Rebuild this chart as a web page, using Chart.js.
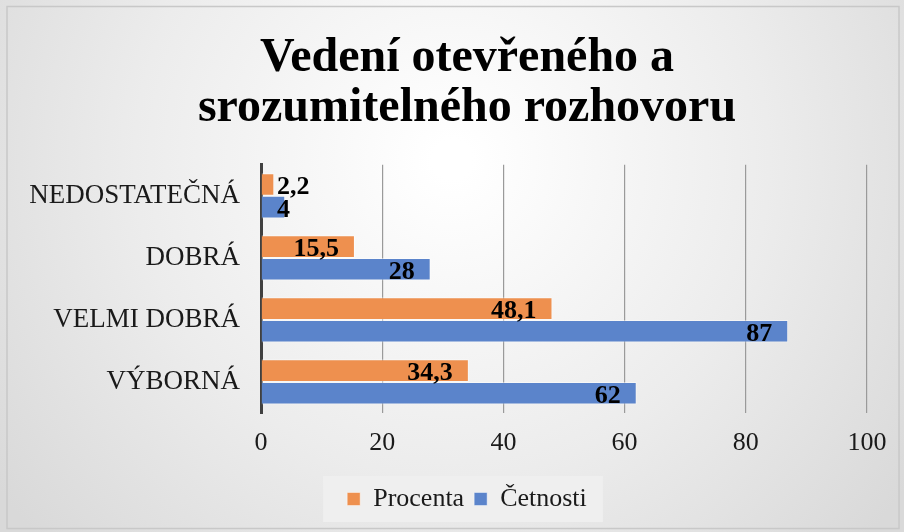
<!DOCTYPE html>
<html>
<head>
<meta charset="utf-8">
<script src="https://cdn.jsdelivr.net/npm/chart.js@4/dist/chart.umd.min.js"></script>
<style>
  html, body { margin: 0; padding: 0; background: #fff; }
  #wrap { width: 904px; height: 532px; position: relative; }
</style>
</head>
<body>
<div id="wrap"><canvas id="c" width="904" height="532"></canvas></div>
<script>
const categories = ['NEDOSTATEČNÁ', 'DOBRÁ', 'VELMI DOBRÁ', 'VÝBORNÁ'];
const procenta = [2.2, 15.5, 48.1, 34.3];
const cetnosti = [4, 28, 87, 62];
const xTicks = [0, 20, 40, 60, 80, 100];

const serif = "'Liberation Serif', 'Times New Roman', serif";

// background gradient + frame
const bgPlugin = {
    id: 'bg',
    beforeDraw(chart) {
        const ctx = chart.ctx, w = chart.width, h = chart.height;
        ctx.save();
        const g = ctx.createRadialGradient(w * 0.5, h * 0.3, 20, w * 0.5, h * 0.3, w * 0.62);
        g.addColorStop(0, '#ffffff');
        g.addColorStop(0.55, '#ececec');
        g.addColorStop(1, '#d9d9d9');
        ctx.fillStyle = g;
        ctx.fillRect(0, 0, w, h);
        ctx.strokeStyle = '#c8c8c8';
        ctx.lineWidth = 1.5;
        ctx.strokeRect(7, 6.5, w - 12, h - 10);
        // light box behind legend
        const lg = chart.legend;
        if (lg && lg.legendHitBoxes && lg.legendHitBoxes.length) {
            const hb = lg.legendHitBoxes;
            const l = Math.min(...hb.map(b => b.left)) - 24;
            const r = Math.max(...hb.map(b => b.left + b.width)) + 16;
            ctx.fillStyle = 'rgba(240,240,240,0.9)';
            ctx.fillRect(l, lg.top, r - l, lg.height);
        }
        ctx.restore();
    }
};

// value labels: inside end, or just right of the axis when the bar is too short
const labelPlugin = {
    id: 'vals',
    afterDatasetsDraw(chart) {
        const ctx = chart.ctx;
        const x0 = chart.scales.x.getPixelForValue(0);
        ctx.save();
        ctx.font = 'bold 26px ' + serif;
        ctx.fillStyle = '#000';
        ctx.textBaseline = 'middle';
        ctx.textAlign = 'left';
        chart.data.datasets.forEach((ds, di) => {
            chart.getDatasetMeta(di).data.forEach((bar, i) => {
                const txt = String(ds.data[i]).replace('.', ',');
                const tw = ctx.measureText(txt).width;
                let left = bar.x - 16 - tw;
                if (left < x0 + 16) left = x0 + 16;
                ctx.fillText(txt, left, bar.y + 3);
            });
        });
        ctx.restore();
    }
};

new Chart(document.getElementById('c'), {
    type: 'bar',
    data: {
        labels: categories,
        datasets: [
            { label: 'Procenta', data: procenta, backgroundColor: '#ee904f', borderColor: 'rgba(255,255,255,0.45)', borderWidth: 1, borderSkipped: 'left' },
            { label: 'Četnosti', data: cetnosti, backgroundColor: '#5b84cb', borderColor: 'rgba(255,255,255,0.45)', borderWidth: 1, borderSkipped: 'left' }
        ]
    },
    options: {
        indexAxis: 'y',
        responsive: false,
        animation: false,
        categoryPercentage: 0.73,
        barPercentage: 1.0,
        layout: { padding: { left: 30, right: 0, top: 0, bottom: 10 } },
        scales: {
            x: {
                min: 0, max: 100,
                afterBuildTicks: s => { s.ticks = xTicks.map(v => ({ value: v })); },
                afterFit: s => { s.height = 63; s.paddingRight = 37; },
                grid: { color: '#9a9a9a', lineWidth: 1.2, drawTicks: false },
                border: { display: false },
                ticks: { color: '#1a1a1a', padding: 15, font: { family: serif, size: 26 } }
            },
            y: {
                afterFit: s => { s.width = 231; },
                grid: { display: false },
                border: { color: '#404040', width: 3 },
                ticks: { color: '#1a1a1a', padding: 13, font: { family: serif, size: 27 } }
            }
        },
        plugins: {
            title: {
                display: true,
                text: ['Vedení otevřeného a', 'srozumitelného rozhovoru'],
                color: '#000',
                font: { family: serif, size: 48, weight: 'bold', lineHeight: 1.05 },
                padding: { top: 33, bottom: 31 }
            },
            legend: {
                position: 'bottom',
                labels: {
                    color: '#1a1a1a',
                    font: { family: serif, size: 26 },
                    boxWidth: 13, boxHeight: 13,
                    padding: 10
                }
            },
            tooltip: { enabled: false }
        }
    },
    plugins: [bgPlugin, labelPlugin]
});
</script>
</body>
</html>
